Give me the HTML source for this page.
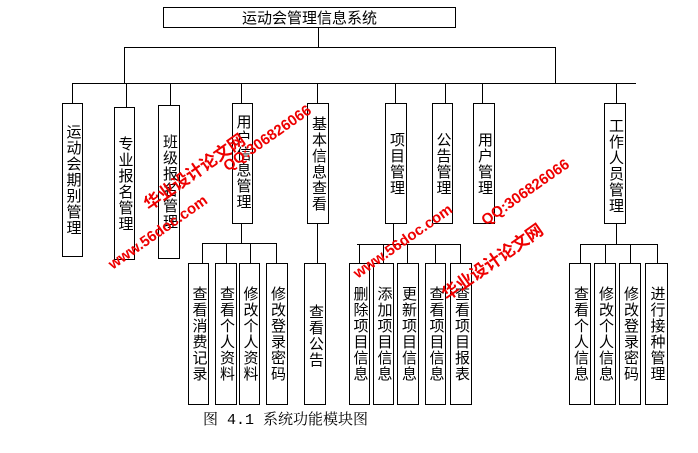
<!DOCTYPE html>
<html><head><meta charset="utf-8"><style>
body{margin:0;width:698px;height:453px;background:#fff;position:relative;overflow:hidden;font-family:"Liberation Sans","Noto Sans CJK SC",sans-serif}
.l{position:absolute;background:#000}
.b{position:absolute;border:1px solid #000;box-sizing:border-box;display:flex;align-items:center;justify-content:center;background:#fff}
.b span{writing-mode:vertical-rl;text-orientation:upright;font-size:15px;letter-spacing:1px;line-height:18px}
.w{position:absolute;color:#e00;font-weight:bold;transform:rotate(-35deg);transform-origin:left bottom;white-space:nowrap;font-family:"Liberation Sans","Noto Sans CJK SC",sans-serif}
</style></head><body>
<div class="b" style="left:163px;top:7px;width:293px;height:21px;font-size:15px">运动会管理信息系统</div>
<div class="l" style="left:318px;top:27px;width:1px;height:20px"></div>
<div class="l" style="left:124px;top:47px;width:432px;height:1px"></div>
<div class="l" style="left:124px;top:47px;width:1px;height:36px"></div>
<div class="l" style="left:555px;top:47px;width:1px;height:36px"></div>
<div class="l" style="left:72px;top:83px;width:564px;height:1px"></div>
<div class="l" style="left:72px;top:83px;width:1px;height:20px"></div>
<div class="l" style="left:126px;top:83px;width:1px;height:24px"></div>
<div class="l" style="left:170px;top:83px;width:1px;height:22px"></div>
<div class="l" style="left:241px;top:83px;width:1px;height:20px"></div>
<div class="l" style="left:317px;top:83px;width:1px;height:20px"></div>
<div class="l" style="left:395px;top:83px;width:1px;height:20px"></div>
<div class="l" style="left:445px;top:83px;width:1px;height:20px"></div>
<div class="l" style="left:482px;top:83px;width:1px;height:20px"></div>
<div class="l" style="left:616px;top:83px;width:1px;height:20px"></div>
<div class="b" style="left:62px;top:103px;width:21px;height:154px"><span>运动会期别管理</span></div>
<div class="b" style="left:114px;top:107px;width:21px;height:153px"><span>专业报名管理</span></div>
<div class="b" style="left:158px;top:105px;width:22px;height:154px"><span>班级报名管理</span></div>
<div class="b" style="left:232px;top:103px;width:21px;height:121px;align-items:flex-start;padding-top:10px"><span>用户信息管理</span></div>
<div class="b" style="left:307px;top:103px;width:22px;height:121px;align-items:flex-start;padding-top:12px"><span>基本信息查看</span></div>
<div class="b" style="left:385px;top:103px;width:22px;height:121px"><span>项目管理</span></div>
<div class="b" style="left:432px;top:103px;width:21px;height:121px"><span>公告管理</span></div>
<div class="b" style="left:473px;top:103px;width:22px;height:121px"><span>用户管理</span></div>
<div class="b" style="left:604px;top:103px;width:22px;height:121px;align-items:flex-start;padding-top:14px"><span>工作人员管理</span></div>
<div class="l" style="left:241px;top:223px;width:1px;height:20px"></div>
<div class="l" style="left:202px;top:243px;width:75px;height:1px"></div>
<div class="l" style="left:202px;top:243px;width:1px;height:20px"></div>
<div class="l" style="left:226px;top:243px;width:1px;height:20px"></div>
<div class="l" style="left:250px;top:243px;width:1px;height:20px"></div>
<div class="l" style="left:276px;top:243px;width:1px;height:20px"></div>
<div class="l" style="left:317px;top:223px;width:1px;height:40px"></div>
<div class="l" style="left:393px;top:223px;width:1px;height:22px"></div>
<div class="l" style="left:357px;top:244px;width:104px;height:1px"></div>
<div class="l" style="left:359px;top:244px;width:1px;height:19px"></div>
<div class="l" style="left:383px;top:244px;width:1px;height:19px"></div>
<div class="l" style="left:407px;top:244px;width:1px;height:19px"></div>
<div class="l" style="left:435px;top:244px;width:1px;height:19px"></div>
<div class="l" style="left:460px;top:244px;width:1px;height:19px"></div>
<div class="l" style="left:616px;top:223px;width:1px;height:22px"></div>
<div class="l" style="left:580px;top:244px;width:78px;height:1px"></div>
<div class="l" style="left:580px;top:244px;width:1px;height:19px"></div>
<div class="l" style="left:605px;top:244px;width:1px;height:19px"></div>
<div class="l" style="left:630px;top:244px;width:1px;height:19px"></div>
<div class="l" style="left:657px;top:244px;width:1px;height:19px"></div>
<div class="b" style="left:188px;top:263px;width:21px;height:142px"><span>查看消费记录</span></div>
<div class="b" style="left:215px;top:263px;width:22px;height:142px"><span>查看个人资料</span></div>
<div class="b" style="left:239px;top:263px;width:21px;height:142px"><span>修改个人资料</span></div>
<div class="b" style="left:266px;top:263px;width:22px;height:142px"><span>修改登录密码</span></div>
<div class="b" style="left:304px;top:263px;width:22px;height:142px;align-items:flex-start;padding-top:40px"><span>查看公告</span></div>
<div class="b" style="left:349px;top:263px;width:21px;height:142px"><span>删除项目信息</span></div>
<div class="b" style="left:373px;top:263px;width:21px;height:142px"><span>添加项目信息</span></div>
<div class="b" style="left:397px;top:263px;width:22px;height:142px"><span>更新项目信息</span></div>
<div class="b" style="left:425px;top:263px;width:21px;height:142px"><span>查看项目信息</span></div>
<div class="b" style="left:450px;top:263px;width:22px;height:142px"><span>查看项目报表</span></div>
<div class="b" style="left:569px;top:263px;width:22px;height:142px"><span>查看个人信息</span></div>
<div class="b" style="left:594px;top:263px;width:22px;height:142px"><span>修改个人信息</span></div>
<div class="b" style="left:619px;top:263px;width:22px;height:142px"><span>修改登录密码</span></div>
<div class="b" style="left:645px;top:263px;width:23px;height:142px"><span>进行接种管理</span></div>
<div style="position:absolute;left:203px;top:408px;font-size:15px;font-family:'Liberation Mono','Noto Serif CJK SC',monospace">图 4.1 系统功能模块图</div>
<div class="w" style="left:152px;top:190px;font-size:17px">华业设计论文网</div>
<div class="w" style="left:230px;top:158px;font-size:15px">QQ:306826066</div>
<div class="w" style="left:115px;top:256px;font-size:15px">www.56doc.com</div>
<div class="w" style="left:360px;top:265px;font-size:15px">www.56doc.com</div>
<div class="w" style="left:488px;top:212px;font-size:15px">QQ:306826066</div>
<div class="w" style="left:450px;top:280px;font-size:17px">华业设计论文网</div>
</body></html>
